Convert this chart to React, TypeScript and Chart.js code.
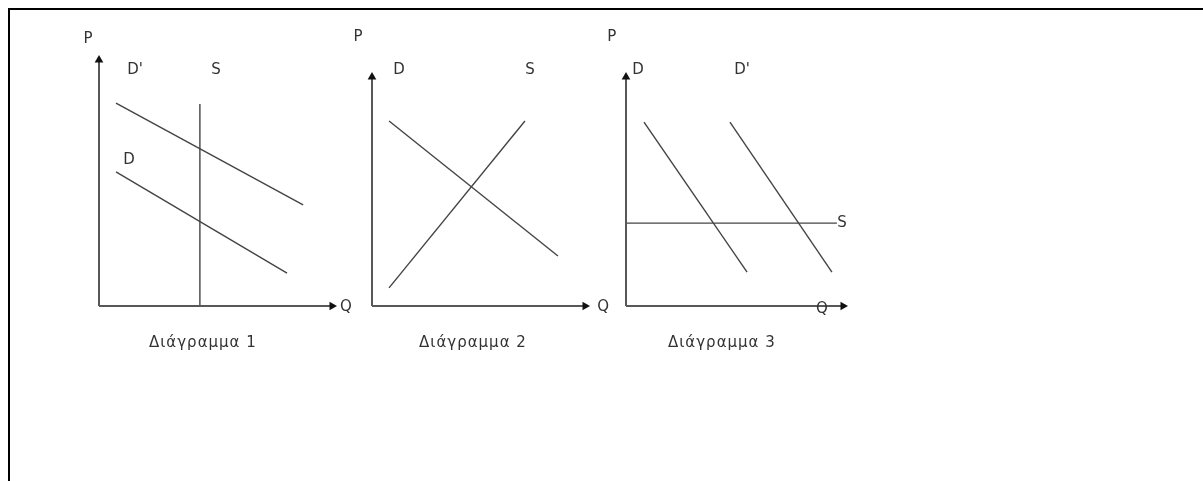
import React, { useEffect, useRef } from "react";
import { Chart, registerables } from "chart.js";

Chart.register(...registerables);

const PAGE_W = 1203;
const PAGE_H = 481;

// Axis extent (data units) for every diagram
const axisMax = 10;

// Diagram 1: two demand curves and a vertical supply
const d1DPrime = [{ q: 0.73, p: 8.25 }, { q: 8.76, p: 4.11 }];
const d1D = [{ q: 0.73, p: 5.45 }, { q: 8.07, p: 1.34 }];
const d1S = [{ q: 4.33, p: 0 }, { q: 4.33, p: 8.21 }];
const d1LabelText = ["P", "D'", "S", "D", "Q", "Διάγραμμα 1"];
const d1LabelQ = [-0.47, 1.55, 5.02, 1.29, 10.6, 4.46];
const d1LabelP = [10.85, 9.59, 9.59, 5.93, -0.05, -1.5];

// Diagram 2: demand and upward supply
const d2D = [{ q: 0.8, p: 8.08 }, { q: 8.73, p: 2.18 }];
const d2S = [{ q: 0.8, p: 0.79 }, { q: 7.18, p: 8.08 }];
const d2LabelText = ["P", "D", "S", "Q", "Διάγραμμα 2"];
const d2LabelQ = [-0.66, 1.27, 7.42, 10.85, 4.74];
const d2LabelP = [11.75, 10.3, 10.3, -0.05, -1.62];

// Diagram 3: two demand curves and a horizontal supply
const d3D = [{ q: 0.83, p: 8.03 }, { q: 5.58, p: 1.48 }];
const d3DPrime = [{ q: 4.79, p: 8.03 }, { q: 9.49, p: 1.48 }];
const d3S = [{ q: 0, p: 3.62 }, { q: 9.72, p: 3.62 }];
const d3LabelText = ["P", "D", "D'", "S", "Q", "Διάγραμμα 3"];
const d3LabelQ = [-0.65, 0.55, 5.35, 9.95, 9.03, 4.42];
const d3LabelP = [11.75, 10.3, 10.3, 3.62, -0.13, -1.62];

type Pt = { q: number; p: number };

const diagrams = [
  {
    frame: { left: 99, right: 332, top: 60, bottom: 306 },
    curves: [d1DPrime, d1D, d1S],
    labels: { text: d1LabelText, q: d1LabelQ, p: d1LabelP },
  },
  {
    frame: { left: 372, right: 585, top: 77, bottom: 306 },
    curves: [d2D, d2S],
    labels: { text: d2LabelText, q: d2LabelQ, p: d2LabelP },
  },
  {
    frame: { left: 626, right: 843, top: 77, bottom: 306 },
    curves: [d3D, d3DPrime, d3S],
    labels: { text: d3LabelText, q: d3LabelQ, p: d3LabelP },
  },
];

const AXIS_COLOR = "#585858";
const LINE_COLOR = "#444444";
const TEXT_COLOR = "#333333";

function toXY(pts: Pt[]) {
  return pts.map((d) => ({ x: d.q, y: d.p }));
}

const labelPlugin = {
  id: "econLabels",
  afterDatasetsDraw(chart: any, _args: any, opts: any) {
    const { ctx, scales } = chart;
    const lab = opts.labels;
    if (!lab) return;
    ctx.save();
    ctx.fillStyle = TEXT_COLOR;
    ctx.textAlign = "center";
    ctx.textBaseline = "middle";
    lab.text.forEach((t: string, i: number) => {
      const isCaption = t.length > 2;
      ctx.font = "15px 'DejaVu Sans'";
      (ctx as any).letterSpacing = isCaption ? "1px" : "0px";
      const x = scales.x.getPixelForValue(lab.q[i]);
      const y = scales.y.getPixelForValue(lab.p[i]);
      ctx.fillText(t, x, y);
    });
    ctx.restore();
  },
};

function Diagram({ index }: { index: number }) {
  const ref = useRef<HTMLCanvasElement | null>(null);
  useEffect(() => {
    const cfg = diagrams[index];
    const f = cfg.frame;
    const datasets: any[] = [
      {
        data: [{ x: 0, y: 0 }, { x: 0, y: axisMax }],
        borderColor: AXIS_COLOR,
        backgroundColor: "#111111",
        borderWidth: 2,
        pointRadius: [0, 5],
        pointStyle: "triangle",
        pointRotation: 0,
        pointBorderWidth: 0,
        clip: false,
      },
      {
        data: [{ x: 0, y: 0 }, { x: axisMax, y: 0 }],
        borderColor: AXIS_COLOR,
        backgroundColor: "#111111",
        borderWidth: 2,
        pointRadius: [0, 5],
        pointStyle: "triangle",
        pointRotation: 90,
        pointBorderWidth: 0,
        clip: false,
      },
      ...cfg.curves.map((c) => ({
        data: toXY(c),
        borderColor: LINE_COLOR,
        borderWidth: 1.4,
        pointRadius: 0,
        clip: false,
      })),
    ];
    const chart = new Chart(ref.current as HTMLCanvasElement, {
      type: "line",
      data: { datasets },
      options: {
        responsive: false,
        animation: false,
        events: [],
        layout: {
          padding: {
            left: f.left,
            right: PAGE_W - f.right,
            top: f.top,
            bottom: PAGE_H - f.bottom,
          },
        },
        scales: {
          x: { type: "linear", min: 0, max: axisMax, display: false },
          y: { type: "linear", min: 0, max: axisMax, display: false },
        },
        plugins: {
          legend: { display: false },
          tooltip: { enabled: false },
          econLabels: { labels: cfg.labels },
        } as any,
      },
      plugins: [labelPlugin],
    });
    return () => chart.destroy();
  }, [index]);
  return (
    <canvas
      ref={ref}
      width={PAGE_W}
      height={PAGE_H}
      style={{ position: "absolute", left: 0, top: 0, width: PAGE_W, height: PAGE_H }}
    />
  );
}

export default function App() {
  return (
    <div
      style={{
        position: "fixed",
        left: 0,
        top: 0,
        width: PAGE_W,
        height: PAGE_H,
        background: "#ffffff",
        overflow: "hidden",
      }}
    >
      <div
        style={{
          position: "absolute",
          left: 8,
          top: 8,
          width: PAGE_W,
          height: PAGE_H,
          borderTop: "2px solid #000",
          borderLeft: "2px solid #000",
        }}
      />
      <Diagram index={0} />
      <Diagram index={1} />
      <Diagram index={2} />
    </div>
  );
}
